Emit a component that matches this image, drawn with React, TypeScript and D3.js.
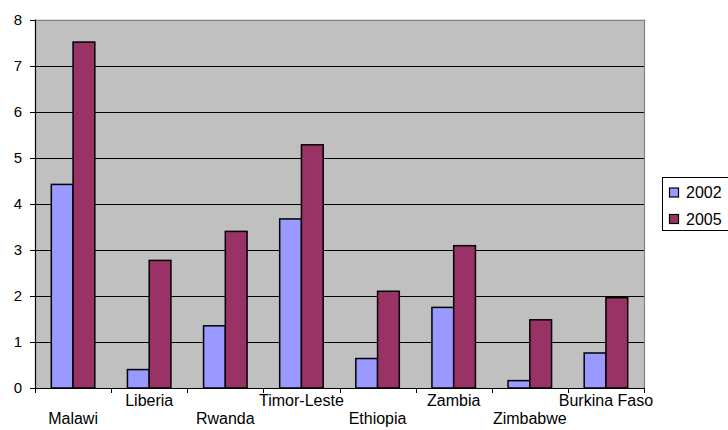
import React from "react";
import * as d3 from "d3";

const categories = ["Malawi", "Liberia", "Rwanda", "Timor-Leste", "Ethiopia", "Zambia", "Zimbabwe", "Burkina Faso"];
const seriesNames = ["2002", "2005"];
const values2002 = [4.42, 0.4, 1.35, 3.67, 0.64, 1.75, 0.16, 0.76];
const values2005 = [7.51, 2.77, 3.4, 5.28, 2.1, 3.09, 1.48, 1.96];
const yTicks = [0, 1, 2, 3, 4, 5, 6, 7, 8];

const colors = ["#9999FF", "#993366"];
const W = 728, H = 430;
const left = 35, right = 644, top = 19.5, bottom = 388;
const font = "'Liberation Sans', Arial, sans-serif";

export default function App() {
  const x0 = d3.scaleBand<string>().domain(categories).range([left, right]).padding(0);
  const x1 = d3.scaleBand<string>().domain(seriesNames).range([0, x0.bandwidth()]).paddingInner(0).paddingOuter(0.75);
  const y = d3.scaleLinear().domain([0, 8]).range([bottom, top]);
  const series = [values2002, values2005];
  const crisp = (v: number) => Math.round(v) + 0.5;

  return (
    <div style={{ position: "absolute", left: 0, top: 0, width: W, height: H, background: "#fff" }}>
      <svg width={W} height={H} style={{ display: "block" }}>
        <rect x={left} y={top} width={right - left} height={bottom - top} fill="#C0C0C0" />
        {yTicks.filter(t => t > 0 && t < 8).map(t => (
          <line key={t} x1={left} x2={right} y1={crisp(y(t))} y2={crisp(y(t))} stroke="#000" strokeWidth={1} />
        ))}
        <line x1={left} x2={right} y1={crisp(y(8))} y2={crisp(y(8))} stroke="#808080" strokeWidth={1.2} />
        <line x1={crisp(right)} x2={crisp(right)} y1={top} y2={bottom} stroke="#808080" strokeWidth={1.2} />
        {categories.map((c, i) =>
          series.map((vals, s) => {
            const bx = (x0(c) as number) + (x1(seriesNames[s]) as number);
            return (
              <rect key={c + s} x={bx} y={y(vals[i])} width={x1.bandwidth()} height={bottom - y(vals[i])}
                fill={colors[s]} stroke="#000" strokeWidth={1.5} />
            );
          })
        )}
        <line x1={crisp(left)} x2={crisp(left)} y1={top} y2={bottom + 0.5} stroke="#000" strokeWidth={1.2} />
        <line x1={left - 5} x2={right} y1={crisp(bottom)} y2={crisp(bottom)} stroke="#000" strokeWidth={1.2} />
        {yTicks.map(t => (
          <g key={t}>
            <line x1={left - 5} x2={left} y1={crisp(y(t))} y2={crisp(y(t))} stroke="#000" strokeWidth={1} />
            <text x={22} y={y(t)} dy="0.35em" textAnchor="end" fontFamily={font} fontSize={15} fill="#000">{t}</text>
          </g>
        ))}
        {categories.map((c) => (
          <line key={"t" + c} x1={crisp(x0(c) as number)} x2={crisp(x0(c) as number)} y1={bottom} y2={bottom + 5} stroke="#000" strokeWidth={1} />
        ))}
        <line x1={crisp(right)} x2={crisp(right)} y1={bottom} y2={bottom + 5} stroke="#000" strokeWidth={1} />
        {categories.map((c, i) => (
          <text key={"l" + c} x={(x0(c) as number) + x0.bandwidth() / 2} y={i % 2 === 1 ? 406 : 424}
            textAnchor="middle" fontFamily={font} fontSize={16} fill="#000">{c}</text>
        ))}
        <rect x={662.5} y={177.5} width={80} height={53} fill="#fff" stroke="#000" strokeWidth={1} />
        {seriesNames.map((s, i) => (
          <g key={s}>
            <rect x={669.5} y={188 + i * 26.5} width={9} height={9} fill={colors[i]} stroke="#000" strokeWidth={1.2} />
            <text x={686} y={192.5 + i * 26.5} dy="0.35em" fontFamily={font} fontSize={16} fill="#000">{s}</text>
          </g>
        ))}
      </svg>
    </div>
  );
}
